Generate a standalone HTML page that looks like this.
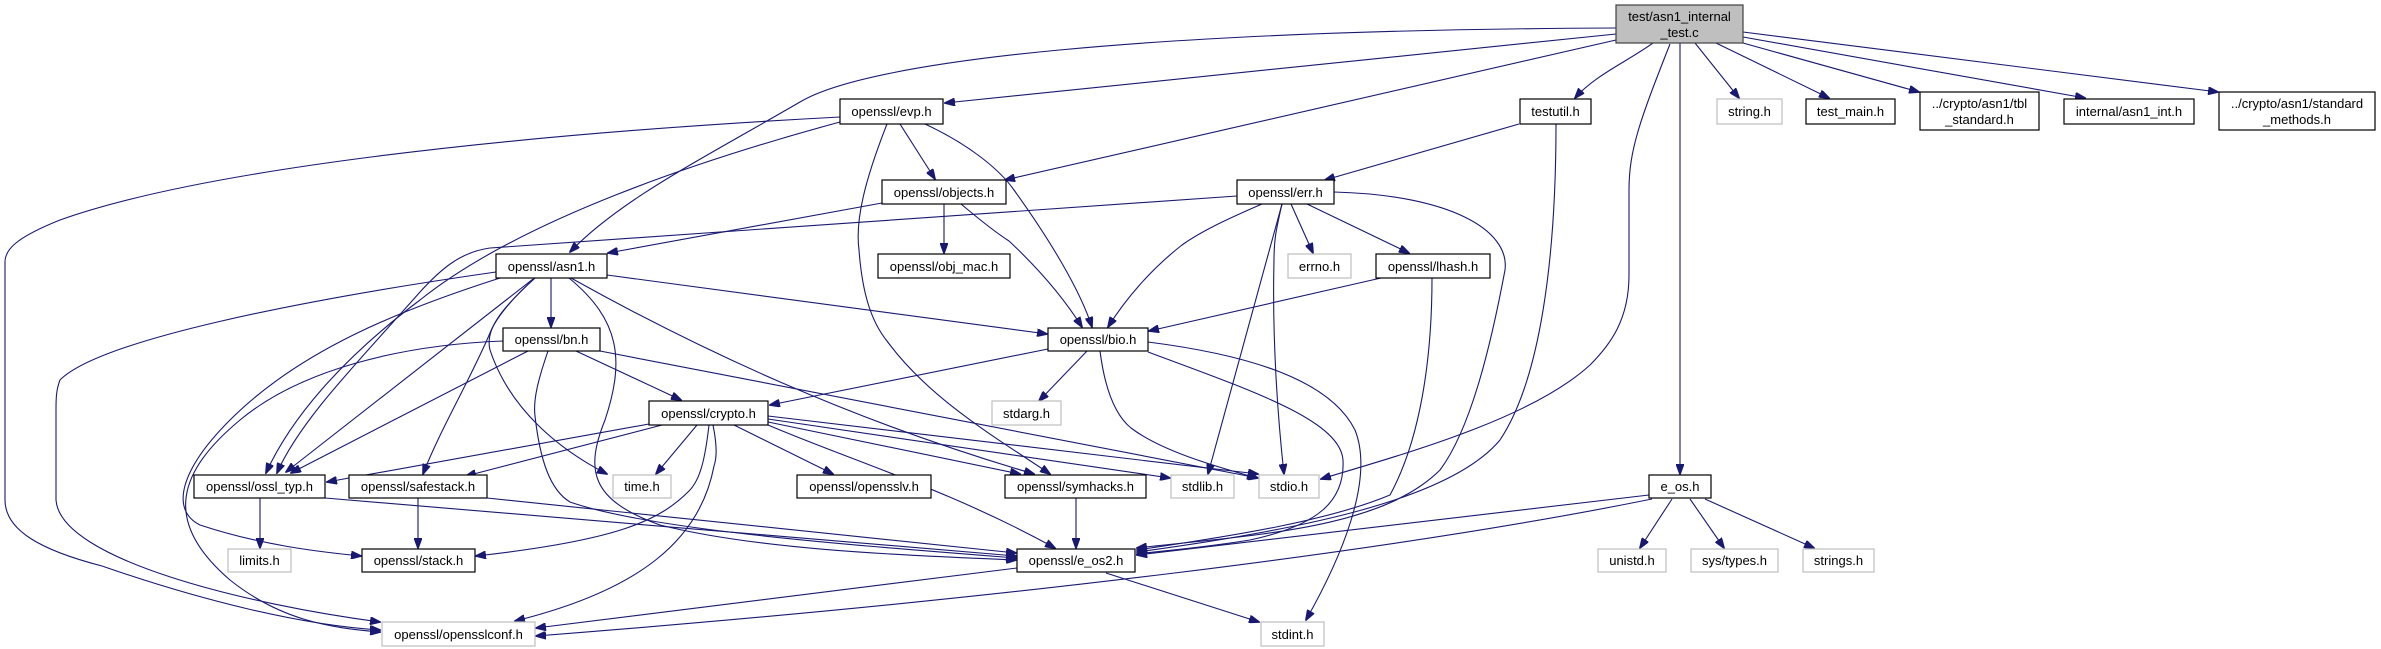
<!DOCTYPE html>
<html><head><meta charset="utf-8"><style>
html,body{margin:0;padding:0;background:#fff;}
svg{display:block;}
text{font-family:"Liberation Sans",sans-serif;font-size:13px;fill:#000;}
.e{fill:none;stroke:#191970;stroke-width:1.1;marker-end:url(#a);}
.n{fill:#fff;stroke:#000;stroke-width:1.2;}
.g{fill:#fff;stroke:#bfbfbf;stroke-width:1.2;}
</style></head><body>
<svg width="2381" height="649" viewBox="0 0 2381 649" xmlns="http://www.w3.org/2000/svg">
<defs><marker id="a" markerWidth="11" markerHeight="8" refX="10" refY="4" orient="auto" markerUnits="userSpaceOnUse"><path d="M0,0 L11,4 L0,8 z" fill="#191970" stroke="#191970"/></marker></defs>

<!-- root edges -->
<path class="e" d="M1616,28 C1150,30 870,60 800,102 C700,160 620,200 570,252"/>
<path class="e" d="M1616,34 L945,103"/>
<path class="e" d="M1616,40 L1005,180"/>
<path class="e" d="M1653,43 C1630,60 1595,75 1575,98"/>
<path class="e" d="M1670,44 C1640,120 1629,150 1629,190 L1629,275 C1629,320 1610,345 1590,365 C1530,420 1400,455 1321,479"/>
<path class="e" d="M1680,43 L1680,474"/>
<path class="e" d="M1695,43 L1739,98"/>
<path class="e" d="M1716,43 L1829,98"/>
<path class="e" d="M1743,43 L1919,92"/>
<path class="e" d="M1743,37 L2085,98"/>
<path class="e" d="M1743,32 L2218,92"/>

<!-- evp -->
<path class="e" d="M840,117 C500,135 200,170 60,220 C15,238 5,250 5,262 L5,500 C5,530 40,550 102,566 C200,600 300,625 380,630"/>
<path class="e" d="M840,122 C700,160 520,220 420,300 C340,360 290,420 266,473"/>
<path class="e" d="M900,124 L935,179"/>
<path class="e" d="M925,124 C970,145 1000,170 1014,190 C1050,240 1080,290 1092,327"/>
<path class="e" d="M887,124 C865,180 855,220 859,250 C862,290 870,320 887,341 C930,400 1000,440 1050,474"/>

<!-- objects -->
<path class="e" d="M882,203 L608,253"/>
<path class="e" d="M944,204 L944,253"/>
<path class="e" d="M961,204 C980,220 995,232 1009,241 C1040,270 1065,300 1082,327"/>

<!-- testutil -->
<path class="e" d="M1519,124 L1325,180"/>
<path class="e" d="M1556,124 C1556,260 1540,380 1500,440 C1450,500 1300,530 1137,552"/>

<!-- err -->
<path class="e" d="M1237,196 L490,248 C460,252 440,270 420,292 C360,360 300,420 277,473"/>
<path class="e" d="M1262,204 C1225,220 1200,232 1182,245 C1150,270 1125,300 1108,327"/>
<path class="e" d="M1282,204 L1208,474"/>
<path class="e" d="M1282,204 C1276,230 1274,240 1274,260 C1272,340 1278,420 1284,474"/>
<path class="e" d="M1291,204 L1313,253"/>
<path class="e" d="M1307,204 L1409,253"/>
<path class="e" d="M1334,192 C1450,195 1510,230 1505,270 C1490,350 1470,430 1440,470 C1380,530 1250,535 1137,548"/>

<!-- lhash -->
<path class="e" d="M1381,278 L1149,331"/>
<path class="e" d="M1432,278 C1432,360 1420,440 1390,495 C1330,520 1240,535 1137,550"/>

<!-- bio -->
<path class="e" d="M1087,351 L1039,401"/>
<path class="e" d="M1100,351 C1105,390 1115,415 1131,428 C1160,450 1210,465 1257,478"/>
<path class="e" d="M1148,352 C1250,390 1340,420 1343,460 C1345,500 1320,525 1250,540 C1200,548 1170,550 1137,554"/>
<path class="e" d="M1148,342 C1250,355 1330,380 1355,430 C1375,480 1340,560 1306,620"/>
<path class="e" d="M1048,349 L770,405"/>

<!-- asn1 -->
<path class="e" d="M496,272 C300,300 100,340 60,380 C56,390 56,400 56,410 L56,500 C60,560 250,605 380,622"/>
<path class="e" d="M533,279 L286,472"/>
<path class="e" d="M500,278 C400,310 300,350 230,420 C180,470 170,510 200,525 C260,545 320,552 361,556"/>
<path class="e" d="M551,278 L551,327"/>
<path class="e" d="M535,278 C510,300 495,320 490,333 C470,380 440,430 423,474"/>
<path class="e" d="M535,278 C500,310 485,330 490,350 C510,410 560,450 607,474"/>
<path class="e" d="M569,278 C620,320 625,360 605,420 C585,470 590,500 660,525 C760,550 900,555 1016,560"/>
<path class="e" d="M607,275 L1047,334"/>
<path class="e" d="M571,278 C700,350 850,420 1034,474"/>

<!-- bn -->
<path class="e" d="M503,341 C400,345 300,370 240,420 C180,470 160,520 230,580 C280,620 330,628 380,632"/>
<path class="e" d="M528,351 L291,473"/>
<path class="e" d="M576,351 L681,400"/>
<path class="e" d="M600,351 L1258,478"/>
<path class="e" d="M548,351 C538,380 533,400 535,416 C540,460 550,490 570,502 C650,530 850,545 1016,558"/>

<!-- crypto -->
<path class="e" d="M649,424 L327,482"/>
<path class="e" d="M662,425 L466,476"/>
<path class="e" d="M697,425 L656,474"/>
<path class="e" d="M709,425 C705,460 700,480 689,491 C660,520 620,540 476,556"/>
<path class="e" d="M713,425 C718,450 716,460 714,466 C700,540 640,590 515,621"/>
<path class="e" d="M734,425 L833,474"/>
<path class="e" d="M768,422 L1020,474"/>
<path class="e" d="M768,419 L1170,478"/>
<path class="e" d="M768,416 L1258,474"/>
<path class="e" d="M768,425 C850,460 950,490 1055,548"/>

<!-- lower -->
<path class="e" d="M260,498 L260,548"/>
<path class="e" d="M325,498 L1016,556"/>
<path class="e" d="M418,498 L418,548"/>
<path class="e" d="M487,498 L1016,553"/>
<path class="e" d="M1076,498 L1076,548"/>
<path class="e" d="M1017,568 L536,628"/>
<path class="e" d="M1106,573 L1259,622"/>
<path class="e" d="M1649,495 L1137,555"/>
<path class="e" d="M1652,499 C1400,550 1000,600 536,636"/>
<path class="e" d="M1672,499 L1640,548"/>
<path class="e" d="M1690,499 L1724,548"/>
<path class="e" d="M1705,499 L1814,548"/>

<!-- nodes -->
<rect x="1616" y="5" width="127" height="38" fill="#bfbfbf" stroke="#404040" stroke-width="1.2"/>
<text x="1679.5" y="21" text-anchor="middle">test/asn1_internal</text>
<text x="1679.5" y="37" text-anchor="middle">_test.c</text>

<rect class="n" x="840" y="99" width="103" height="25"/><text x="891.5" y="116" text-anchor="middle">openssl/evp.h</text>
<rect class="n" x="1520" y="99" width="71" height="25"/><text x="1555.5" y="116" text-anchor="middle">testutil.h</text>
<rect class="g" x="1717" y="99" width="65" height="25"/><text x="1749.5" y="116" text-anchor="middle">string.h</text>
<rect class="n" x="1806" y="99" width="89" height="25"/><text x="1850.5" y="116" text-anchor="middle">test_main.h</text>
<rect class="n" x="1920" y="92" width="119" height="38"/><text x="1979.5" y="108" text-anchor="middle">../crypto/asn1/tbl</text><text x="1979.5" y="124" text-anchor="middle">_standard.h</text>
<rect class="n" x="2064" y="99" width="130" height="25"/><text x="2129" y="116" text-anchor="middle">internal/asn1_int.h</text>
<rect class="n" x="2219" y="92" width="156" height="38"/><text x="2297" y="108" text-anchor="middle">../crypto/asn1/standard</text><text x="2297" y="124" text-anchor="middle">_methods.h</text>

<rect class="n" x="882" y="180" width="124" height="24"/><text x="944" y="197" text-anchor="middle">openssl/objects.h</text>
<rect class="n" x="1237" y="180" width="97" height="24"/><text x="1285.5" y="197" text-anchor="middle">openssl/err.h</text>

<rect class="n" x="496" y="254" width="111" height="24"/><text x="551.5" y="271" text-anchor="middle">openssl/asn1.h</text>
<rect class="n" x="878" y="254" width="132" height="24"/><text x="944" y="271" text-anchor="middle">openssl/obj_mac.h</text>
<rect class="g" x="1288" y="254" width="63" height="24"/><text x="1319.5" y="271" text-anchor="middle">errno.h</text>
<rect class="n" x="1376" y="254" width="114" height="24"/><text x="1433" y="271" text-anchor="middle">openssl/lhash.h</text>

<rect class="n" x="503" y="328" width="97" height="23"/><text x="551.5" y="344" text-anchor="middle">openssl/bn.h</text>
<rect class="n" x="1048" y="328" width="100" height="23"/><text x="1098" y="344" text-anchor="middle">openssl/bio.h</text>

<rect class="n" x="649" y="401" width="119" height="24"/><text x="708.5" y="418" text-anchor="middle">openssl/crypto.h</text>
<rect class="g" x="992" y="401" width="69" height="24"/><text x="1026.5" y="418" text-anchor="middle">stdarg.h</text>

<rect class="n" x="194" y="475" width="131" height="23"/><text x="259.5" y="491" text-anchor="middle">openssl/ossl_typ.h</text>
<rect class="n" x="349" y="475" width="138" height="23"/><text x="418" y="491" text-anchor="middle">openssl/safestack.h</text>
<rect class="g" x="613" y="475" width="58" height="23"/><text x="642" y="491" text-anchor="middle">time.h</text>
<rect class="n" x="797" y="475" width="134" height="23"/><text x="864" y="491" text-anchor="middle">openssl/opensslv.h</text>
<rect class="n" x="1005" y="475" width="141" height="23"/><text x="1075.5" y="491" text-anchor="middle">openssl/symhacks.h</text>
<rect class="g" x="1171" y="475" width="63" height="23"/><text x="1202.5" y="491" text-anchor="middle">stdlib.h</text>
<rect class="g" x="1259" y="475" width="60" height="23"/><text x="1289" y="491" text-anchor="middle">stdio.h</text>
<rect class="n" x="1649" y="475" width="62" height="23"/><text x="1680" y="491" text-anchor="middle">e_os.h</text>

<rect class="g" x="228" y="549" width="63" height="23"/><text x="259.5" y="565" text-anchor="middle">limits.h</text>
<rect class="n" x="362" y="549" width="113" height="23"/><text x="418.5" y="565" text-anchor="middle">openssl/stack.h</text>
<rect class="n" x="1017" y="549" width="118" height="23"/><text x="1076" y="565" text-anchor="middle">openssl/e_os2.h</text>
<rect class="g" x="1598" y="549" width="68" height="23"/><text x="1632" y="565" text-anchor="middle">unistd.h</text>
<rect class="g" x="1691" y="549" width="87" height="23"/><text x="1734.5" y="565" text-anchor="middle">sys/types.h</text>
<rect class="g" x="1803" y="549" width="71" height="23"/><text x="1838.5" y="565" text-anchor="middle">strings.h</text>

<rect class="g" x="382" y="622" width="153" height="24"/><text x="458.5" y="639" text-anchor="middle">openssl/opensslconf.h</text>
<rect class="g" x="1261" y="622" width="63" height="24"/><text x="1292.5" y="639" text-anchor="middle">stdint.h</text>
</svg>
</body></html>
